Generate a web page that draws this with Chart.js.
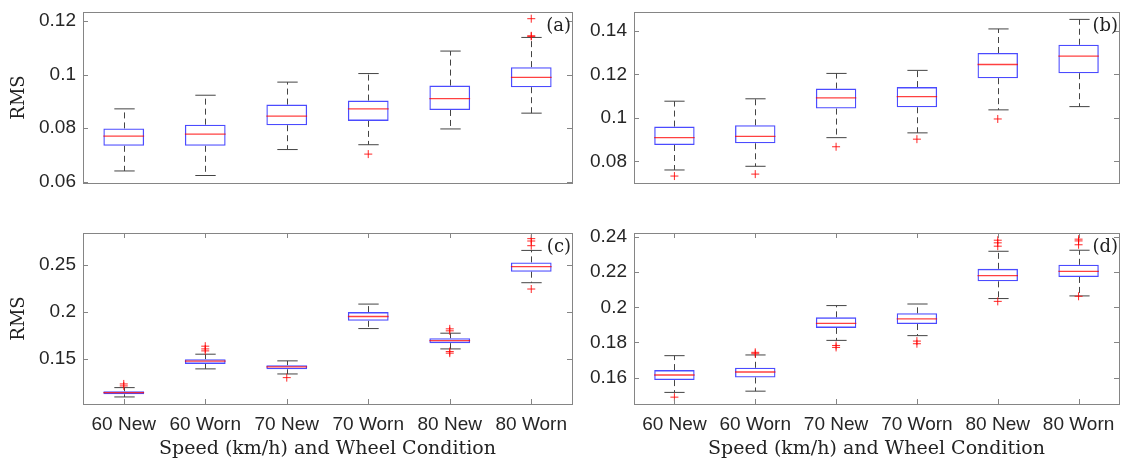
<!DOCTYPE html>
<html>
<head>
<meta charset="utf-8">
<script src="https://cdn.jsdelivr.net/npm/chart.js@4/dist/chart.umd.min.js"></script>
<style>
  body { margin: 0; background: #fff; width: 1124px; height: 459px; overflow: hidden; position: relative; }
  canvas { position: absolute; }
</style>
</head>
<body>
<canvas id="panelA" width="580" height="215" style="left:0;top:0"></canvas>
<canvas id="panelB" width="564" height="215" style="left:560px;top:0"></canvas>
<canvas id="panelC" width="580" height="239" style="left:0;top:220px"></canvas>
<canvas id="panelD" width="564" height="239" style="left:560px;top:220px"></canvas>
<script>
// categories shared by every panel
const categories = ['60 New', '60 Worn', '70 New', '70 Worn', '80 New', '80 Worn'];

// (a)
const minA = [0.0640, 0.0623, 0.0720, 0.0738, 0.0797, 0.0856];
const q1A  = [0.0734, 0.0734, 0.0811, 0.0827, 0.0868, 0.0953];
const medA = [0.0770, 0.0778, 0.0845, 0.0872, 0.0910, 0.0990];
const q3A  = [0.0799, 0.0813, 0.0888, 0.0903, 0.0959, 0.1028];
const maxA = [0.0872, 0.0923, 0.0972, 0.1004, 0.1088, 0.1139];
const outA = [[], [], [], [0.0703], [], [0.1209, 0.1143, 0.1145]];
const ticksA = [0.06, 0.08, 0.1, 0.12];

// (b)
const minB = [0.0760, 0.0777, 0.0909, 0.0931, 0.1037, 0.1052];
const q1B  = [0.0875, 0.0883, 0.1043, 0.1049, 0.1183, 0.1206];
const medB = [0.0909, 0.0915, 0.1092, 0.1098, 0.1246, 0.1285];
const q3B  = [0.0960, 0.0966, 0.1135, 0.1142, 0.1299, 0.1337];
const maxB = [0.1077, 0.1088, 0.1205, 0.1219, 0.1410, 0.1454];
const outB = [[0.0732], [0.0741], [0.0867], [0.0902], [0.0995], []];
const ticksB = [0.08, 0.1, 0.12, 0.14];

// (c)
const minC = [0.1096, 0.1394, 0.1340, 0.1822, 0.1606, 0.2309];
const q1C  = [0.1124, 0.1447, 0.1390, 0.1904, 0.1667, 0.2426];
const medC = [0.1141, 0.1476, 0.1415, 0.1950, 0.1695, 0.2479];
const q3C  = [0.1156, 0.1497, 0.1433, 0.1997, 0.1720, 0.2525];
const maxC = [0.1195, 0.1550, 0.1479, 0.2082, 0.1773, 0.2652];
const outC = [[0.1234, 0.1213], [0.1635, 0.1606, 0.1585], [0.1301], [],
              [0.1819, 0.1798, 0.1578, 0.1561], [0.2777, 0.2752, 0.2702, 0.2242]];
const ticksC = [0.15, 0.2, 0.25];

// (d)
const minD = [0.1516, 0.1523, 0.1812, 0.1839, 0.2050, 0.2065];
const q1D  = [0.1586, 0.1601, 0.1883, 0.1905, 0.2148, 0.2173];
const medD = [0.1615, 0.1632, 0.1909, 0.1934, 0.2181, 0.2205];
const q3D  = [0.1643, 0.1656, 0.1943, 0.1966, 0.2219, 0.2242];
const maxD = [0.1725, 0.1729, 0.2010, 0.2019, 0.2319, 0.2325];
const outD = [[0.1489], [0.1744, 0.1736], [0.1783, 0.1772], [0.1808, 0.1793],
              [0.2382, 0.2367, 0.2348, 0.2034], [0.2388, 0.2378, 0.2356, 0.2063]];
const ticksD = [0.16, 0.18, 0.2, 0.22, 0.24];

const xTitle = 'Speed (km/h) and Wheel Condition';
const yTitle = 'RMS';

const FRAME = '#858585';
const TICKTXT = '#262626';
const SANS = "'Liberation Sans', Arial, sans-serif";
const SERIF = "'DejaVu Serif', serif";

function boxPanel(id, s, cfg) {
  // whiskers, medians, frame, inward ticks, panel letter
  const extras = {
    id: 'extras',
    beforeDatasetsDraw(chart) {
      const { ctx, scales: { x, y } } = chart;
      const bars = chart.getDatasetMeta(0).data;
      ctx.save();
      ctx.strokeStyle = '#444';
      ctx.lineWidth = 1;
      categories.forEach((c, i) => {
        const px = Math.round(x.getPixelForValue(i)) + 0.5;
        const hw = bars[i].width / 4;
        ctx.setLineDash([6, 4]);
        ctx.beginPath();
        ctx.moveTo(px, y.getPixelForValue(s.q3[i]));
        ctx.lineTo(px, y.getPixelForValue(s.max[i]));
        ctx.moveTo(px, y.getPixelForValue(s.q1[i]));
        ctx.lineTo(px, y.getPixelForValue(s.min[i]));
        ctx.stroke();
        ctx.setLineDash([]);
        ctx.beginPath();
        ctx.moveTo(px - hw, y.getPixelForValue(s.max[i]));
        ctx.lineTo(px + hw, y.getPixelForValue(s.max[i]));
        ctx.moveTo(px - hw, y.getPixelForValue(s.min[i]));
        ctx.lineTo(px + hw, y.getPixelForValue(s.min[i]));
        ctx.stroke();
      });
      ctx.restore();
    },
    afterDatasetsDraw(chart) {
      const { ctx, scales: { x, y } } = chart;
      const bars = chart.getDatasetMeta(0).data;
      ctx.save();
      ctx.strokeStyle = 'rgba(255,0,0,0.75)';
      ctx.lineWidth = 1.3;
      categories.forEach((c, i) => {
        const px = x.getPixelForValue(i);
        const hw = bars[i].width / 2;
        const py = y.getPixelForValue(s.med[i]);
        ctx.beginPath();
        ctx.moveTo(px - hw, py);
        ctx.lineTo(px + hw, py);
        ctx.stroke();
      });
      ctx.restore();
    },
    afterDraw(chart) {
      const { ctx, chartArea: a, scales: { x, y } } = chart;
      ctx.save();
      ctx.strokeStyle = FRAME;
      ctx.lineWidth = 1;
      ctx.strokeRect(Math.round(a.left) + 0.5, Math.round(a.top) + 0.5,
                     Math.round(a.right - a.left), Math.round(a.bottom - a.top));
      ctx.beginPath();
      y.ticks.forEach(t => {
        const py = Math.round(y.getPixelForValue(t.value)) + 0.5;
        ctx.moveTo(a.left, py); ctx.lineTo(a.left + 5, py);
        ctx.moveTo(a.right, py); ctx.lineTo(a.right - 5, py);
      });
      if (cfg.showX) {
        categories.forEach((c, i) => {
          const px = Math.round(x.getPixelForValue(i)) + 0.5;
          ctx.moveTo(px, a.bottom); ctx.lineTo(px, a.bottom - 5);
          ctx.moveTo(px, a.top); ctx.lineTo(px, a.top + 5);
        });
      }
      ctx.stroke();
      ctx.fillStyle = '#222';
      ctx.font = '18px ' + SERIF;
      ctx.textAlign = 'right';
      ctx.textBaseline = 'middle';
      ctx.fillText(cfg.letter, a.right - 1, a.top + 14);
      ctx.restore();
    }
  };

  const outliers = [];
  s.out.forEach((arr, i) => arr.forEach(v => outliers.push({ x: categories[i], y: v })));

  return new Chart(document.getElementById(id), {
    type: 'bar',
    data: {
      labels: categories,
      datasets: [{
        data: s.q1.map((v, i) => [v, s.q3[i]]),
        backgroundColor: 'rgba(0,0,0,0)',
        borderColor: 'rgba(30,30,255,0.8)',
        borderWidth: 1.3,
        borderSkipped: false,
        barPercentage: 0.5,
        categoryPercentage: 1
      }, {
        type: 'line',
        data: outliers,
        showLine: false,
        pointStyle: 'cross',
        pointRadius: 4,
        pointBorderWidth: 1,
        borderColor: 'rgba(255,0,0,0.85)',
        backgroundColor: 'rgba(255,0,0,0.85)'
      }]
    },
    options: {
      responsive: false,
      animation: false,
      layout: { padding: { top: cfg.padTop, right: cfg.padRight, left: 0, bottom: 0 } },
      plugins: { legend: { display: false }, tooltip: { enabled: false } },
      scales: {
        x: {
          grid: { display: false, drawTicks: false },
          border: { display: false },
          ticks: { display: cfg.showX, color: TICKTXT, font: { family: SANS, size: 19 }, padding: 9, maxRotation: 0 },
          title: { display: cfg.showX, text: xTitle, color: '#222', font: { family: SERIF, size: 19, lineHeight: 1 }, padding: { bottom: 0.5, top: 0 } },
          afterFit: sc => { sc.height = cfg.xHeight; sc.paddingLeft = 0; sc.paddingRight = 0; }
        },
        y: {
          min: cfg.yMin,
          max: cfg.yMax,
          grid: { display: false, drawTicks: false },
          border: { display: false },
          afterBuildTicks: sc => { sc.ticks = cfg.ticks.map(v => ({ value: v })); },
          ticks: { color: TICKTXT, font: { family: SANS, size: 19 }, padding: 7,
                   callback: v => String(parseFloat(v.toFixed(4))) },
          title: { display: cfg.showY, text: yTitle, color: '#222', font: { family: SERIF, size: 18 }, padding: { top: 9, bottom: 0 } },
          afterFit: sc => { sc.width = cfg.yWidth; sc.paddingTop = 0; sc.paddingBottom = 0; }
        }
      }
    },
    plugins: [extras]
  });
}

boxPanel('panelA', { min: minA, q1: q1A, med: medA, q3: q3A, max: maxA, out: outA },
  { ticks: ticksA, yMin: 0.0595, yMax: 0.1234, letter: '(a)', showX: false, showY: true,
    yWidth: 83, padTop: 12, padRight: 8, xHeight: 32 });
boxPanel('panelB', { min: minB, q1: q1B, med: medB, q3: q3B, max: maxB, out: outB },
  { ticks: ticksB, yMin: 0.0700, yMax: 0.1488, letter: '(b)', showX: false, showY: false,
    yWidth: 74, padTop: 12, padRight: 2, xHeight: 32 });
boxPanel('panelC', { min: minC, q1: q1C, med: medC, q3: q3C, max: maxC, out: outC },
  { ticks: ticksC, yMin: 0.1021, yMax: 0.2837, letter: '(c)', showX: true, showY: true,
    yWidth: 83, padTop: 13, padRight: 8, xHeight: 55 });
boxPanel('panelD', { min: minD, q1: q1D, med: medD, q3: q3D, max: maxD, out: outD },
  { ticks: ticksD, yMin: 0.1450, yMax: 0.2423, letter: '(d)', showX: true, showY: false,
    yWidth: 74, padTop: 13, padRight: 2, xHeight: 55 });
</script>
</body>
</html>
